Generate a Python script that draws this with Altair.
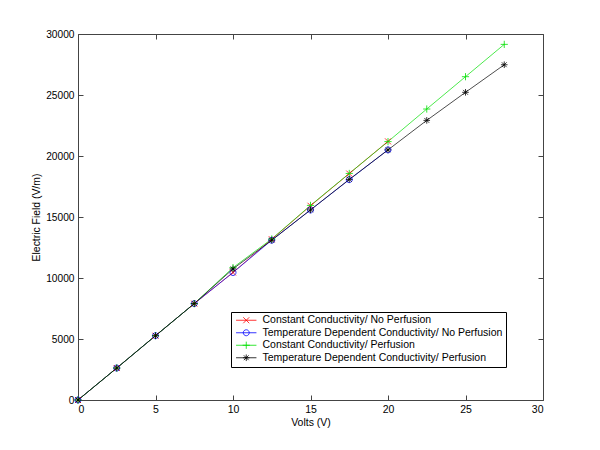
import altair as alt
import pandas as pd

# ---- data ----
series_names = [
    "Constant Conductivity/ No Perfusion",
    "Temperature Dependent Conductivity/ No Perfusion",
    "Constant Conductivity/ Perfusion",
    "Temperature Dependent Conductivity/ Perfusion",
]
volts_np = [0, 2.5, 5, 7.5, 10, 12.5, 15, 17.5, 20]
field_const_np = [0, 2620, 5270, 7900, 10450, 13180, 15920, 18560, 21200]
field_temp_np = [0, 2620, 5270, 7900, 10450, 13100, 15580, 18060, 20500]
volts_p = [0, 2.5, 5, 7.5, 10, 12.5, 15, 17.5, 20, 22.5, 25, 27.5]
field_const_p = [0, 2620, 5270, 7900, 10850, 13200, 15950, 18570, 21180, 23850, 26500, 29150]
field_temp_p = [0, 2620, 5270, 7900, 10750, 13100, 15580, 18080, 20500, 22920, 25220, 27480]

x_ticks = [0, 5, 10, 15, 20, 25, 30]
y_ticks = [0, 5000, 10000, 15000, 20000, 25000, 30000]

colors = ["#ff0000", "#0000ff", "#00e000", "#000000"]
marker_paths = [
    "M-1,-1L1,1M-1,1L1,-1",
    "M-1,0A1,1 0 1,1 1,0A1,1 0 1,1 -1,0",
    "M-1.2,0L1.2,0M0,-1.2L0,1.2",
    "M-1.1,0L1.1,0M0,-1.1L0,1.1M-0.8,-0.8L0.8,0.8M-0.8,0.8L0.8,-0.8",
]
legend_paths = ["M-3.4,0L3.4,0" + p for p in marker_paths]

rows = []
for name, xs, ys in [
    (series_names[0], volts_np, field_const_np),
    (series_names[1], volts_np, field_temp_np),
    (series_names[2], volts_p, field_const_p),
    (series_names[3], volts_p, field_temp_p),
]:
    for xv, yv in zip(xs, ys):
        rows.append({"series": name, "volts": xv, "field": yv})
df = pd.DataFrame(rows)

W, H = 465, 366
FONT = "Liberation Sans"
AX = "#444444"

xscale = alt.Scale(domain=[0, 30], nice=False, zero=False)
yscale = alt.Scale(domain=[0, 30000], nice=False, zero=False)

def color_enc(legend=None):
    return alt.Color("series:N", scale=alt.Scale(domain=series_names, range=colors), legend=legend)

base = alt.Chart(df)

# main line layer with labelled axes
lines = base.mark_line(strokeWidth=0.7).encode(
    x=alt.X("volts:Q", scale=xscale, title="Volts (V)",
            axis=alt.Axis(values=x_ticks, orient="bottom", ticks=False, grid=False,
                          domainColor=AX, labelPadding=4, titlePadding=3,
                          labelFont=FONT, titleFont=FONT, labelFontSize=10.5, titleFontSize=10.5,
                          titleFontWeight="normal", labelColor="#000", titleColor="#000")),
    y=alt.Y("field:Q", scale=yscale, title="Electric Field (V/m)",
            axis=alt.Axis(values=y_ticks, orient="left", ticks=False, grid=False, format="d",
                          domainColor=AX, labelPadding=4, titlePadding=4,
                          labelFont=FONT, titleFont=FONT, labelFontSize=10.2, titleFontSize=10.4,
                          titleFontWeight="normal", labelColor="#000", titleColor="#000")),
    color=color_enc(),
    detail="series:N",
    order="volts:Q",
)

# markers; axes give inward ticks on bottom and left edges
points = base.mark_point(filled=False, size=36, strokeWidth=0.8, opacity=1).encode(
    x=alt.X("volts:Q", scale=xscale, title=None,
            axis=alt.Axis(values=x_ticks, orient="top", offset=-H, labels=False, domain=False,
                          grid=False, tickSize=5, tickColor=AX)),
    y=alt.Y("field:Q", scale=yscale, title=None,
            axis=alt.Axis(values=y_ticks, orient="right", offset=-W, labels=False, domain=False,
                          grid=False, tickSize=5, tickColor=AX)),
    color=color_enc(),
    shape=alt.Shape("series:N", scale=alt.Scale(domain=series_names, range=marker_paths), legend=None),
)

legend_props = dict(title=None, orient="none", legendX=153, legendY=278,
                    symbolSize=36, symbolStrokeWidth=0.8, symbolOffset=7,
                    labelOffset=11, labelFont=FONT, labelFontSize=10.5,
                    labelColor="#000", rowPadding=1.5, padding=3,
                    strokeColor="#000", fillColor="#fff", cornerRadius=0,
                    labelLimit=400)

# legend layer (no marks drawn) + top/right box lines
legend_layer = base.transform_filter("false").mark_point(filled=False, strokeWidth=0.8, opacity=1).encode(
    x=alt.X("volts:Q", scale=xscale, title=None,
            axis=alt.Axis(values=x_ticks, orient="top", labels=False, ticks=False, grid=False,
                          domainColor=AX)),
    y=alt.Y("field:Q", scale=yscale, title=None,
            axis=alt.Axis(values=y_ticks, orient="right", labels=False, ticks=False, grid=False,
                          domainColor=AX)),
    color=alt.Color("series:N", scale=alt.Scale(domain=series_names, range=colors),
                    legend=alt.Legend(**legend_props)),
    shape=alt.Shape("series:N", scale=alt.Scale(domain=series_names, range=legend_paths),
                    legend=alt.Legend(**legend_props)),
)

# invisible layer: inward ticks on top and right edges
tick_layer = base.transform_filter("false").mark_point(opacity=0).encode(
    x=alt.X("volts:Q", scale=xscale, title=None,
            axis=alt.Axis(values=x_ticks, orient="bottom", offset=-H, labels=False, domain=False,
                          grid=False, tickSize=5, tickColor=AX)),
    y=alt.Y("field:Q", scale=yscale, title=None,
            axis=alt.Axis(values=y_ticks, orient="left", offset=-W, labels=False, domain=False,
                          grid=False, tickSize=5, tickColor=AX)),
)

chart = alt.layer(lines, points, legend_layer, tick_layer).resolve_scale(
    color="independent", shape="independent"
).resolve_axis(
    x="independent", y="independent"
).resolve_legend(
    color="independent", shape="independent"
).properties(
    width=W, height=H,
    autosize=alt.AutoSizeParams(type="none"),
    padding={"left": 70, "top": 26, "right": 40, "bottom": 40},
    background="white",
).configure_view(stroke=None)

chart.save("out.html", embed_options={"renderer": "svg", "actions": False})
